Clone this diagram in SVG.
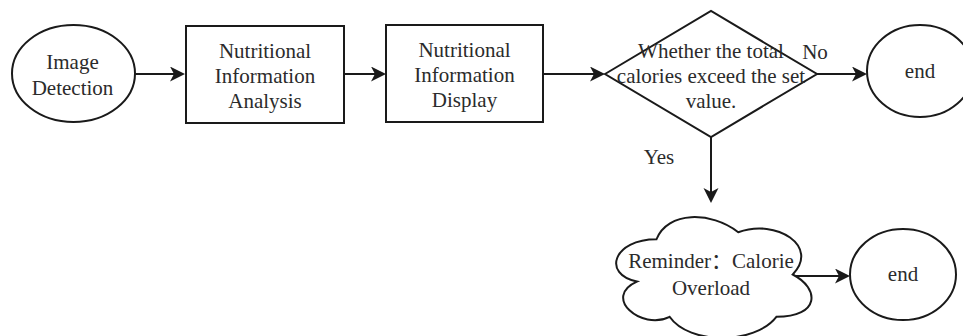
<svg xmlns="http://www.w3.org/2000/svg" width="963" height="336" viewBox="0 0 963 336">
<style>
.s{fill:#fff;stroke:#1a1a1a;stroke-width:2}
.t{font-family:"Liberation Serif","Noto Sans CJK SC",serif;font-size:21px;fill:#2b2b2b;text-anchor:middle}
.c{fill:none;stroke:#1a1a1a;stroke-width:2}
</style>
<defs>
<marker id="a" markerUnits="userSpaceOnUse" markerWidth="16" markerHeight="16" refX="13" refY="7.5" orient="auto">
<path d="M0,0 L15,7.5 L0,15 L4,7.5 Z" fill="#1a1a1a"/>
</marker>
</defs>
<g id="connectors">
<line class="c" x1="135" y1="74" x2="183" y2="74" marker-end="url(#a)"/>
<line class="c" x1="344" y1="74" x2="384" y2="74" marker-end="url(#a)"/>
<line class="c" x1="543" y1="74" x2="603" y2="74" marker-end="url(#a)"/>
<line class="c" x1="817" y1="74" x2="865" y2="74" marker-end="url(#a)"/>
<line class="c" x1="711" y1="137" x2="711" y2="201" marker-end="url(#a)"/>
<line class="c" x1="790" y1="276" x2="848" y2="276" marker-end="url(#a)"/>
<text class="t" x="815" y="59">No</text>
<text class="t" x="659" y="164">Yes</text>
</g>
<g id="image-detection">
<ellipse class="s" cx="73.5" cy="73.5" rx="61.5" ry="48.5"/>
<text class="t" x="72.5" y="69">Image</text>
<text class="t" x="72.5" y="95">Detection</text>
</g>
<g id="analysis">
<rect class="s" x="186" y="26" width="158" height="97"/>
<text class="t" x="265" y="58">Nutritional</text>
<text class="t" x="265" y="83">Information</text>
<text class="t" x="265" y="108">Analysis</text>
</g>
<g id="display">
<rect class="s" x="386" y="25" width="157" height="97"/>
<text class="t" x="464.5" y="57">Nutritional</text>
<text class="t" x="464.5" y="82">Information</text>
<text class="t" x="464.5" y="107">Display</text>
</g>
<g id="decision">
<path class="s" d="M605,74 L711,11 L817,74 L711,137 Z"/>
<text class="t" x="711" y="58">Whether the total</text>
<text class="t" x="711" y="83">calories exceed the set</text>
<text class="t" x="711" y="108">value.</text>
</g>
<g id="end1">
<ellipse class="s" cx="920" cy="71" rx="53" ry="46"/>
<text class="t" x="920" y="78">end</text>
</g>
<g id="reminder">
<path class="s" d="M656.5,239.25 C613,239.25 602,274.5 636.9,281.55 C602,297.06 641.2,330.9 669.6,316.8 C689.2,345 754.6,345 776.4,316.8 C820,316.8 820,288.6 792.75,274.5 C820,246.3 776.4,218.1 738.25,232.2 C711,211.05 667.4,211.05 656.5,239.25 Z"/>
<text class="t" x="711" y="268">Reminder：Calorie</text>
<text class="t" x="711" y="295">Overload</text>
</g>
<g id="end2">
<ellipse class="s" cx="903" cy="274.5" rx="53" ry="45.5"/>
<text class="t" x="903" y="281">end</text>
</g>
</svg>
